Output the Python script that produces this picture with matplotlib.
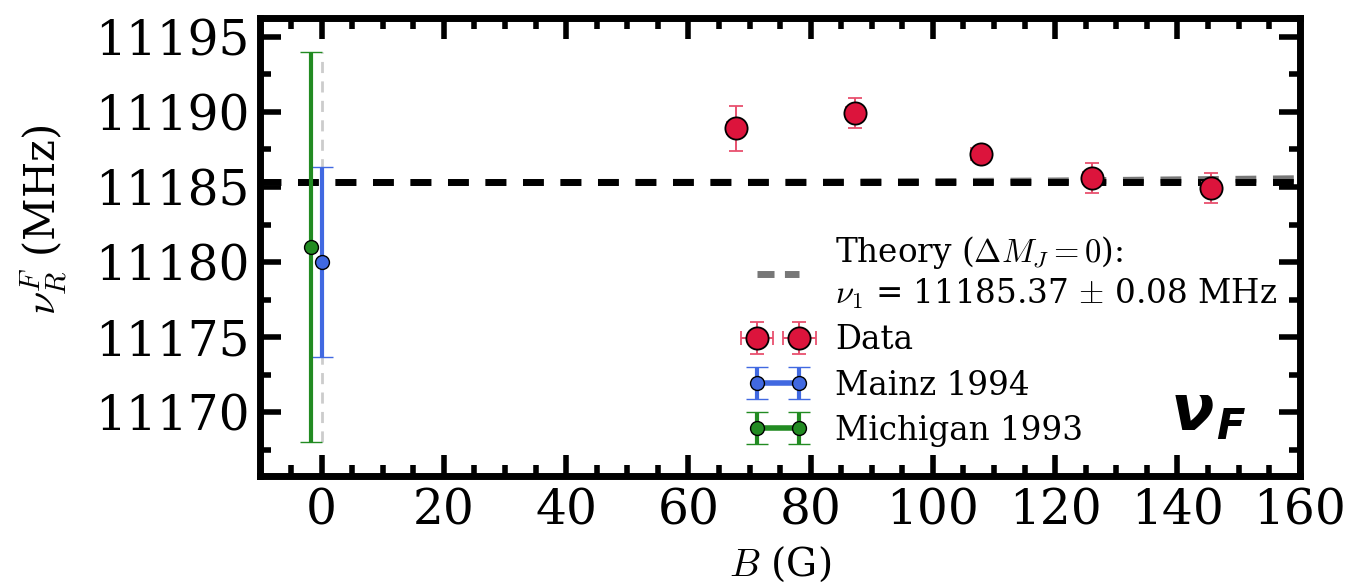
import numpy as np
import matplotlib
matplotlib.use("Agg")
import matplotlib.pyplot as plt
from matplotlib.lines import Line2D

plt.rcParams['font.family'] = ['DejaVu Serif']
plt.rcParams['mathtext.fontset'] = 'cm'

# data
B_data = [67.8, 87.3, 107.8, 126.0, 145.5]
nu_data = [11188.9, 11189.9, 11187.2, 11185.6, 11184.9]
nu_err = [1.5, 1.0, 0.4, 1.0, 1.0]
B_err = [1.5, 1.5, 1.5, 1.5, 1.5]

B_mainz = [0.0]
nu_mainz = [11180.0]
err_mainz = [6.3]

B_mich = [-1.8]
nu_mich = [11181.0]
err_mich = [13.0]

B_theory = [-10, 40, 80, 120, 160]
nu_theory = [11185.3, 11185.3, 11185.32, 11185.4, 11185.55]
nu_zero = 11185.3

fig = plt.figure(figsize=(13.71, 5.84), dpi=100)
ax = fig.add_axes([0.19, 0.185, 0.758, 0.784])

ax.vlines(0, 11168, 11194, colors='#cccccc', linestyles=(0, (4, 3)), lw=2, zorder=1)

dash = (0, (3, 2.4))
ax.plot(B_theory, nu_theory, ls=dash, color='#777777', lw=5, zorder=2)
ax.axhline(nu_zero, ls=dash, color='black', lw=5, zorder=2)

ax.errorbar(B_data, nu_data, yerr=nu_err, xerr=B_err, fmt='o', color='#DC143C',
            ecolor='#E8506E', mec='black', mew=1.3, ms=16, capsize=5, elinewidth=1.4,
            capthick=1.4, label='Data', zorder=4)
ax.errorbar(B_mainz, nu_mainz, yerr=err_mainz, fmt='-o', color='#4169E1',
            mec='black', mew=1.0, ms=10, capsize=8, elinewidth=3, lw=4,
            label='Mainz 1994', zorder=3)
ax.errorbar(B_mich, nu_mich, yerr=err_mich, fmt='-o', color='#228B22',
            mec='black', mew=1.0, ms=10, capsize=8, elinewidth=3, lw=4,
            label='Michigan 1993', zorder=3)

ax.set_xlim(-10, 160)
ax.set_ylim(11165.75, 11196.25)
ax.set_xticks(np.arange(0, 161, 20))
ax.set_xticks(np.arange(-5, 160, 5), minor=True)
ax.set_yticks(np.arange(11170, 11196, 5))
ax.set_yticks(np.arange(11167.5, 11196, 2.5), minor=True)
ax.tick_params(which='both', direction='in', top=True, right=True, width=4, labelsize=35)
ax.tick_params(which='major', length=15, pad=8)
ax.tick_params(which='minor', length=8)
for s in ax.spines.values():
    s.set_linewidth(5)

ax.set_xlabel('$B$ (G)', fontsize=28, labelpad=8)
ax.set_ylabel('$\\nu_R^F$ (MHz)', fontsize=30)
ax.yaxis.set_label_coords(-0.183, 0.56)

theory_handle = Line2D([], [], ls=(0, (2.45, 1.5)), color='#777777', lw=5)
handles, labels = ax.get_legend_handles_labels()
handles = [theory_handle] + handles
labels = ['Theory ($\\Delta M_J = 0$):\n$\\nu_1$ = 11185.37 $\\pm$ 0.08 MHz'] + labels
ax.legend(handles, labels, loc='lower left', bbox_to_anchor=(0.44, 0.0), frameon=False,
          fontsize=23.5, numpoints=2, handlelength=1.9, labelspacing=0.4, handletextpad=0.8)

ax.text(146.0, 11170.0, 'ν', fontsize=46, family='DejaVu Sans', weight='bold',
        style='italic', ha='right', va='center')
ax.text(146.3, 11169.0, 'F', fontsize=30, family='DejaVu Sans', weight='bold',
        style='italic', ha='left', va='center')

fig.savefig('out.png', dpi=100)
